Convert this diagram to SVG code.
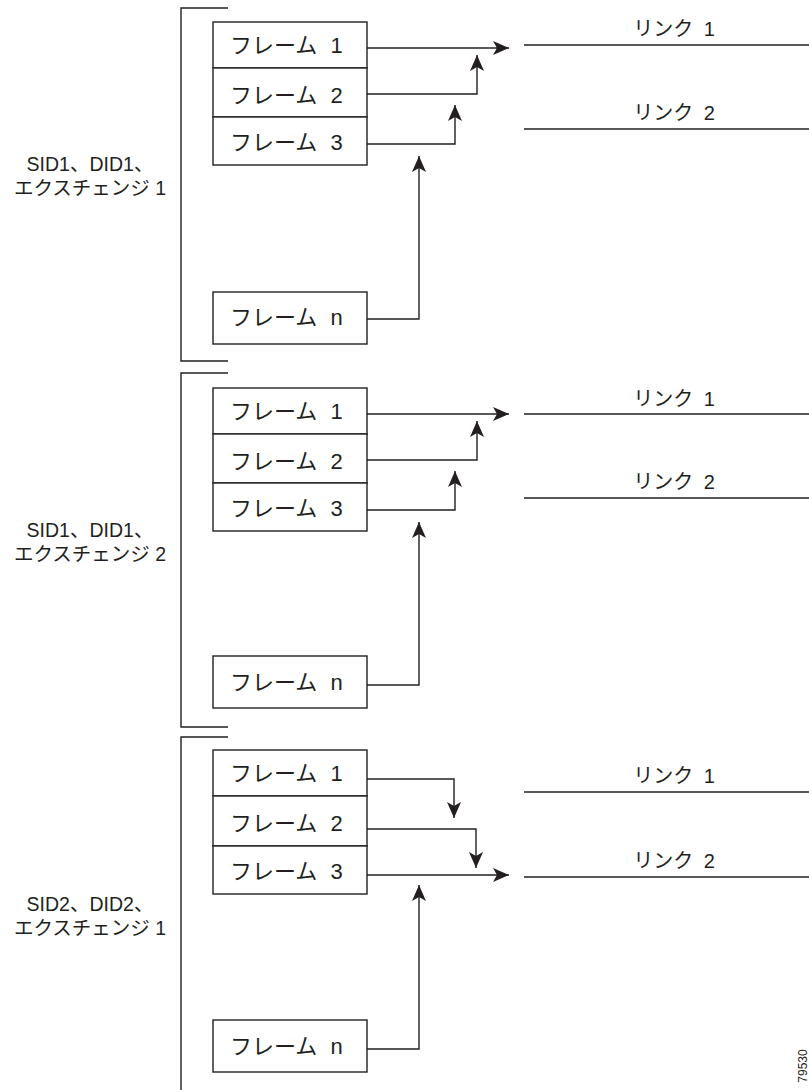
<svg xmlns="http://www.w3.org/2000/svg" width="809" height="1090" viewBox="0 0 809 1090">
<defs>
<style>
.ln{fill:none;stroke:#231f20;stroke-width:1.4}
.bx{fill:#fff;stroke:#231f20;stroke-width:1.4}
.ft{font-family:"Liberation Sans","Noto Sans CJK JP",sans-serif;font-size:22px;fill:#231f20}
.lk{font-family:"Liberation Sans","Noto Sans CJK JP",sans-serif;font-size:20px;fill:#231f20;text-anchor:middle}
.lb{font-family:"Liberation Sans","Noto Sans CJK JP",sans-serif;font-size:19.5px;fill:#231f20;text-anchor:middle}
.ar{fill:none;stroke:#231f20;stroke-width:1.4;marker-end:url(#ah)}
</style>
<marker id="ah" markerUnits="userSpaceOnUse" markerWidth="18" markerHeight="16" refX="16" refY="7" orient="auto">
<path d="M0,0 L16,7 L0,14 L4,7 z" fill="#231f20"/>
</marker>
</defs>
<rect width="809" height="1090" fill="#fff"/>

<g id="brackets">
<path class="ln" d="M228,8 H181 V361 H228"/>
<path class="ln" d="M228,373 H181 V727 H228"/>
<path class="ln" d="M228,737 H181 V1090"/>
</g>

<g id="labels">
<text class="lb" x="90" y="171">SID1、DID1、</text>
<text class="lb" x="90" y="195">エクスチェンジ 1</text>
<text class="lb" x="90" y="537">SID1、DID1、</text>
<text class="lb" x="90" y="561">エクスチェンジ 2</text>
<text class="lb" x="90" y="911">SID2、DID2、</text>
<text class="lb" x="90" y="935">エクスチェンジ 1</text>
</g>

<g id="s1-frame1"><rect class="bx" x="213" y="22" width="154" height="46"/><text class="ft" x="230" y="53">フレーム<tspan dx="7"> 1</tspan></text></g>
<g id="s1-frame2"><rect class="bx" x="213" y="68" width="154" height="49"/><text class="ft" x="230" y="103">フレーム<tspan dx="7"> 2</tspan></text></g>
<g id="s1-frame3"><rect class="bx" x="213" y="117" width="154" height="48"/><text class="ft" x="230" y="150">フレーム<tspan dx="7"> 3</tspan></text></g>
<g id="s1-framen"><rect class="bx" x="213" y="292" width="154" height="52"/><text class="ft" x="230" y="325">フレーム<tspan dx="7"> n</tspan></text></g>
<g id="s1-link1"><line class="ln" x1="524" y1="45" x2="809" y2="45"/><text class="lk" x="674" y="36">リンク<tspan dx="5"> 1</tspan></text></g>
<g id="s1-link2"><line class="ln" x1="524" y1="129" x2="809" y2="129"/><text class="lk" x="674" y="120">リンク<tspan dx="5"> 2</tspan></text></g>

<g id="s2-frame1"><rect class="bx" x="213" y="388" width="154" height="46"/><text class="ft" x="230" y="419">フレーム<tspan dx="7"> 1</tspan></text></g>
<g id="s2-frame2"><rect class="bx" x="213" y="434" width="154" height="49"/><text class="ft" x="230" y="469">フレーム<tspan dx="7"> 2</tspan></text></g>
<g id="s2-frame3"><rect class="bx" x="213" y="483" width="154" height="48"/><text class="ft" x="230" y="516">フレーム<tspan dx="7"> 3</tspan></text></g>
<g id="s2-framen"><rect class="bx" x="213" y="656" width="154" height="52"/><text class="ft" x="230" y="690">フレーム<tspan dx="7"> n</tspan></text></g>
<g id="s2-link1"><line class="ln" x1="524" y1="414" x2="809" y2="414"/><text class="lk" x="674" y="406">リンク<tspan dx="5"> 1</tspan></text></g>
<g id="s2-link2"><line class="ln" x1="524" y1="498" x2="809" y2="498"/><text class="lk" x="674" y="489">リンク<tspan dx="5"> 2</tspan></text></g>

<g id="s3-frame1"><rect class="bx" x="213" y="750" width="154" height="46"/><text class="ft" x="230" y="781">フレーム<tspan dx="7"> 1</tspan></text></g>
<g id="s3-frame2"><rect class="bx" x="213" y="796" width="154" height="50"/><text class="ft" x="230" y="831">フレーム<tspan dx="7"> 2</tspan></text></g>
<g id="s3-frame3"><rect class="bx" x="213" y="846" width="154" height="48"/><text class="ft" x="230" y="879">フレーム<tspan dx="7"> 3</tspan></text></g>
<g id="s3-framen"><rect class="bx" x="213" y="1020" width="154" height="52"/><text class="ft" x="230" y="1054">フレーム<tspan dx="7"> n</tspan></text></g>
<g id="s3-link1"><line class="ln" x1="524" y1="792" x2="809" y2="792"/><text class="lk" x="674" y="783">リンク<tspan dx="5"> 1</tspan></text></g>
<g id="s3-link2"><line class="ln" x1="524" y1="877" x2="809" y2="877"/><text class="lk" x="674" y="868">リンク<tspan dx="5"> 2</tspan></text></g>

<g id="connectors">
<path class="ar" d="M367,48 H509"/>
<path class="ar" d="M367,94 H477 V55"/>
<path class="ar" d="M367,144 H455 V105"/>
<path class="ar" d="M367,319 H419 V156"/>

<path class="ar" d="M367,414 H509"/>
<path class="ar" d="M367,460 H477 V421"/>
<path class="ar" d="M367,510 H455 V471"/>
<path class="ar" d="M367,685 H419 V522"/>

<path class="ar" d="M367,779 H454 V818"/>
<path class="ar" d="M367,829 H476 V868"/>
<path class="ar" d="M367,875 H509"/>
<path class="ar" d="M367,1049 H419 V885"/>
</g>

<text x="807" y="1066" transform="rotate(-90 807 1066)" text-anchor="middle" font-family="Liberation Sans,sans-serif" font-size="12" fill="#231f20">79530</text>
</svg>
